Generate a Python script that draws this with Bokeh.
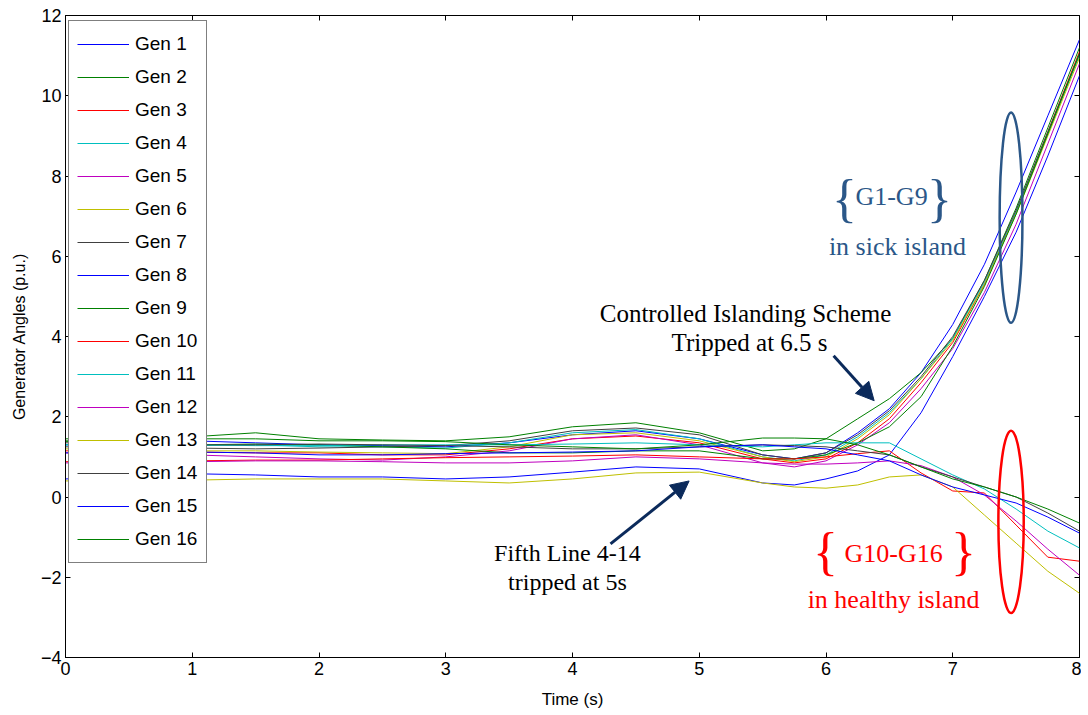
from bokeh.plotting import figure
from bokeh.models import (LinearAxis, FixedTicker, Range1d, Legend, LegendItem,
                          Arrow, NormalHead, Label)
from bokeh.embed import file_html
from bokeh.resources import INLINE

# ---------------- data ----------------
t = [0, 0.5, 1, 1.5, 2, 2.5, 3, 3.5, 4, 4.5, 5, 5.5, 5.75, 6, 6.25, 6.5, 6.75, 7, 7.25, 7.5, 7.75, 8]

gen1 = [1.30, 1.35, 1.40, 1.35, 1.30, 1.28, 1.25, 1.35, 1.55, 1.65, 1.45, 1.05, 0.95, 1.10, 1.60, 2.20, 3.10, 4.30, 5.80, 7.60, 9.50, 11.40]
gen2 = [1.45, 1.45, 1.50, 1.60, 1.45, 1.42, 1.40, 1.50, 1.75, 1.85, 1.60, 1.15, 1.20, 1.45, 1.95, 2.45, 3.10, 3.95, 5.40, 7.20, 9.20, 11.20]
gen3 = [1.15, 1.15, 1.12, 1.10, 1.10, 1.05, 1.05, 1.20, 1.45, 1.52, 1.35, 0.95, 0.85, 0.95, 1.35, 1.95, 2.85, 3.85, 5.30, 7.10, 9.10, 11.10]
gen4 = [1.30, 1.30, 1.28, 1.30, 1.25, 1.25, 1.22, 1.35, 1.60, 1.68, 1.45, 1.00, 0.90, 1.05, 1.50, 2.10, 2.95, 3.95, 5.35, 7.10, 9.05, 11.00]
gen5 = [1.10, 1.08, 1.05, 1.00, 0.95, 0.92, 1.00, 1.15, 1.45, 1.55, 1.30, 0.85, 0.75, 0.90, 1.30, 1.85, 2.70, 3.70, 5.10, 6.80, 8.80, 10.80]
gen6 = [1.20, 1.18, 1.15, 1.15, 1.12, 1.10, 1.08, 1.25, 1.55, 1.60, 1.40, 1.00, 0.88, 1.00, 1.45, 2.05, 2.95, 3.90, 5.30, 7.05, 9.00, 10.95]
gen7 = [1.25, 1.25, 1.22, 1.20, 1.22, 1.25, 1.28, 1.40, 1.65, 1.72, 1.55, 1.05, 0.95, 1.10, 1.55, 2.15, 3.00, 4.00, 5.40, 7.15, 9.10, 11.05]
gen8 = [0.45, 0.50, 0.58, 0.55, 0.50, 0.50, 0.45, 0.50, 0.62, 0.75, 0.70, 0.35, 0.30, 0.45, 0.65, 1.05, 2.10, 3.50, 5.00, 6.60, 8.50, 10.50]
gen9 = [1.38, 1.35, 1.30, 1.32, 1.30, 1.25, 1.20, 1.10, 1.10, 1.15, 1.15, 0.95, 0.95, 1.05, 1.35, 1.75, 2.50, 3.75, 5.25, 7.05, 9.05, 11.05]
gen10 = [0.88, 0.88, 0.90, 0.92, 0.92, 0.95, 0.98, 1.00, 1.02, 1.05, 1.00, 0.95, 0.95, 1.00, 1.08, 1.15, 0.60, 0.15, 0.10, -0.70, -1.50, -1.60]
gen11 = [1.30, 1.32, 1.30, 1.28, 1.28, 1.30, 1.30, 1.30, 1.32, 1.35, 1.30, 1.25, 1.30, 1.35, 1.35, 1.35, 0.95, 0.55, 0.20, -0.30, -0.85, -1.27]
gen12 = [0.85, 0.86, 0.88, 0.90, 0.90, 0.88, 0.85, 0.85, 0.90, 1.00, 0.95, 0.85, 0.82, 0.82, 0.85, 0.90, 0.78, 0.50, 0.05, -0.60, -1.30, -1.95]
gen13 = [0.40, 0.42, 0.42, 0.45, 0.45, 0.45, 0.40, 0.35, 0.45, 0.60, 0.62, 0.35, 0.25, 0.22, 0.30, 0.50, 0.55, 0.25, -0.45, -1.15, -1.85, -2.40]
gen14 = [1.35, 1.35, 1.30, 1.30, 1.32, 1.30, 1.28, 1.25, 1.20, 1.20, 1.25, 1.30, 1.28, 1.25, 1.15, 1.05, 0.75, 0.50, 0.25, 0.00, -0.40, -0.85]
gen15 = [1.10, 1.10, 1.12, 1.10, 1.05, 1.05, 1.08, 1.10, 1.12, 1.15, 1.25, 1.30, 1.25, 1.20, 1.05, 0.90, 0.55, 0.25, 0.05, -0.15, -0.50, -0.90]
gen16 = [1.40, 1.42, 1.45, 1.45, 1.40, 1.40, 1.38, 1.30, 1.25, 1.20, 1.30, 1.47, 1.47, 1.45, 1.30, 1.05, 0.75, 0.45, 0.25, 0.00, -0.30, -0.65]

series = [gen1, gen2, gen3, gen4, gen5, gen6, gen7, gen8, gen9,
          gen10, gen11, gen12, gen13, gen14, gen15, gen16]
labels = ["Gen %d" % i for i in range(1, 17)]
palette = ["#0000FF", "#008000", "#FF0000", "#00BFBF", "#BF00BF", "#BFBF00", "#404040"]

x_ticks = [0, 1, 2, 3, 4, 5, 6, 7, 8]
y_ticks = [-4, -2, 0, 2, 4, 6, 8, 10, 12]

# ---------------- figure ----------------
p = figure(frame_width=1014, frame_height=642, output_backend="svg",
           toolbar_location=None, x_range=Range1d(0, 8), y_range=Range1d(-4, 12),
           min_border_left=65, min_border_top=15, min_border_bottom=50, min_border_right=2)
p.background_fill_color = "white"
p.border_fill_color = "white"
p.outline_line_color = "black"
p.outline_line_width = 1
p.grid.visible = False

TICK_FONT = "Liberation Sans"
for ax in (p.xaxis[0], p.yaxis[0]):
    ax.major_tick_in = 5
    ax.major_tick_out = 0
    ax.minor_tick_line_color = None
    ax.axis_line_color = "black"
    ax.major_tick_line_color = "black"
    ax.major_label_text_font = TICK_FONT
    ax.major_label_text_font_size = "18px"
    ax.major_label_text_color = "black"
    ax.axis_label_text_font = TICK_FONT
    ax.axis_label_text_font_style = "normal"
    ax.axis_label_text_color = "black"

p.xaxis.ticker = FixedTicker(ticks=x_ticks)
p.yaxis.ticker = FixedTicker(ticks=y_ticks)
p.xaxis.axis_label = "Time (s)"
p.xaxis.axis_label_text_font_size = "17px"
p.xaxis.major_label_standoff = 4
p.xaxis.axis_label_standoff = 12
p.yaxis.axis_label = "Generator Angles (p.u.)"
p.yaxis.axis_label_text_font_size = "16px"
p.yaxis.major_label_standoff = 4
p.yaxis.axis_label_standoff = 10

# mirrored ticks on top and right (MATLAB box)
top = LinearAxis(ticker=FixedTicker(ticks=x_ticks), major_tick_in=5, major_tick_out=0,
                 minor_tick_line_color=None, major_label_text_font_size="1px",
                 major_label_overrides={v: "" for v in x_ticks},
                 major_label_standoff=0, axis_line_color=None)
right = LinearAxis(ticker=FixedTicker(ticks=y_ticks), major_tick_in=5, major_tick_out=0,
                   minor_tick_line_color=None, major_label_text_font_size="1px",
                   major_label_overrides={v: "" for v in y_ticks},
                   major_label_standoff=0, axis_line_color=None)
p.add_layout(top, "above")
p.add_layout(right, "right")

# ---------------- lines ----------------
items = []
for i, (ys, lab) in enumerate(zip(series, labels)):
    r = p.line(t, ys, line_color=palette[i % 7], line_width=1)
    items.append(LegendItem(label=lab, renderers=[r]))

legend = Legend(items=items, location=(3, 94), margin=0, padding=8, spacing=3,
                glyph_width=52, glyph_height=30, label_height=30, label_width=63,
                label_standoff=6, label_text_font=TICK_FONT, label_text_font_size="19px",
                label_text_color="black",
                border_line_color="black", border_line_width=1,
                background_fill_color="white", background_fill_alpha=1)
p.add_layout(legend, "center")

# ---------------- annotations ----------------
NAVY = "#0B2A5B"
SICK = "#2B5788"
RED = "#FF0000"
SERIF = "Liberation Serif"

p.add_layout(Arrow(end=NormalHead(size=18, fill_color=NAVY, line_color=NAVY),
                   x_start=4.30, y_start=-1.17, x_end=4.92, y_end=0.40,
                   line_color=NAVY, line_width=3))
p.add_layout(Arrow(end=NormalHead(size=18, fill_color=NAVY, line_color=NAVY),
                   x_start=6.06, y_start=3.52, x_end=6.38, y_end=2.40,
                   line_color=NAVY, line_width=3))

def lbl(x, y, text, color, size, font=SERIF):
    p.add_layout(Label(x=x, y=y, text=text, text_color=color, text_font=font,
                       text_font_size=size, text_align="center", text_baseline="middle"))

lbl(3.96, -1.40, "Fifth Line 4-14", "black", "24px")
lbl(3.96, -2.12, "tripped at 5s", "black", "24px")
lbl(5.365, 4.57, "Controlled Islanding Scheme", "black", "25px")
lbl(5.397, 3.84, "Tripped at 6.5 s", "black", "25px")

lbl(6.146, 7.45, "{", SICK, "52px")
lbl(6.517, 7.49, "G1-G9", SICK, "26px")
lbl(6.895, 7.45, "}", SICK, "52px")
lbl(6.564, 6.24, "in sick island", SICK, "26px")

lbl(5.996, -1.37, "{", RED, "52px")
lbl(6.533, -1.42, "G10-G16", RED, "26px")
lbl(7.085, -1.37, "}", RED, "52px")
lbl(6.533, -2.55, "in healthy island", RED, "26px")

p.ellipse(x=[7.46], y=[6.96], width=0.18, height=5.24, fill_color=None,
          line_color=SICK, line_width=2.5)
p.ellipse(x=[7.46], y=[-0.62], width=0.20, height=4.54, fill_color=None,
          line_color=RED, line_width=2.5)

open("out.html", "w").write(file_html(p, INLINE))
